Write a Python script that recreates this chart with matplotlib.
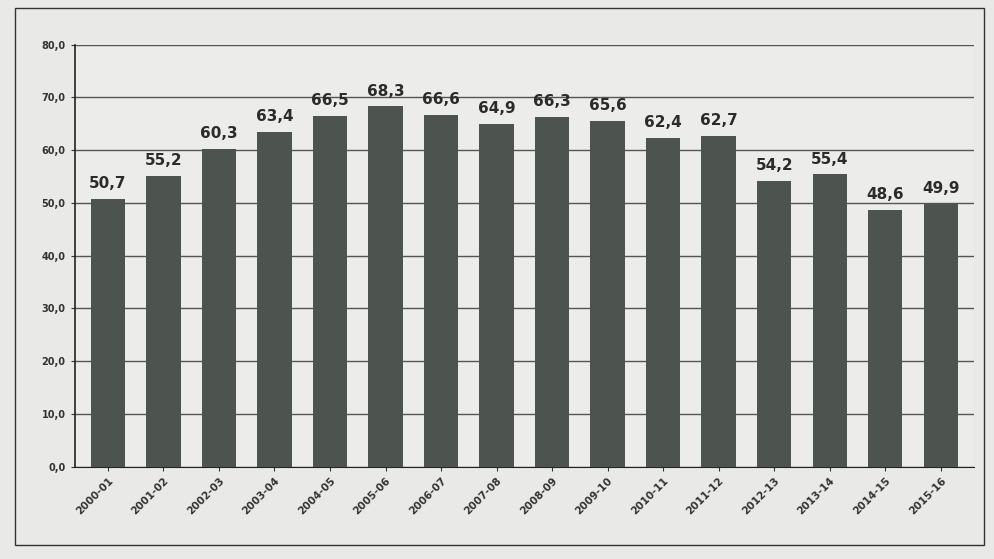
"""Bar chart of yearly values, 2000-01 to 2015-16."""
import matplotlib
matplotlib.use("Agg")
import numpy as np
from matplotlib import pyplot as plt

years = ["2000-01", "2001-02", "2002-03", "2003-04", "2004-05", "2005-06",
         "2006-07", "2007-08", "2008-09", "2009-10", "2010-11", "2011-12",
         "2012-13", "2013-14", "2014-15", "2015-16"]
values = [50.7, 55.2, 60.3, 63.4, 66.5, 68.3, 66.6, 64.9, 66.3, 65.6,
          62.4, 62.7, 54.2, 55.4, 48.6, 49.9]
y_ticks = [0, 10, 20, 30, 40, 50, 60, 70, 80]


def comma(v):
    return f"{v:.1f}".replace(".", ",")


fig = plt.figure(figsize=(9.94, 5.59), dpi=100, facecolor="#e9e9e7")
ax = fig.add_axes([0.075, 0.165, 0.905, 0.755])
ax.set_facecolor("#ececea")

x = np.arange(len(years))
bars = ax.bar(x, values, width=0.62, color="#4d534f", zorder=3)

for rect, v in zip(bars, values):
    ax.text(rect.get_x() + rect.get_width() / 2, v + 1.5, comma(v),
            ha="center", va="bottom", fontsize=11, fontweight="bold",
            color="#2b2b2b")

ax.set_ylim(0, 80)
ax.set_xlim(-0.6, len(years) - 0.4)
ax.set_yticks(y_ticks)
ax.set_yticklabels([comma(t) for t in y_ticks], fontsize=7, fontweight="bold",
                   color="#333333")
ax.set_xticks(x)
ax.set_xticklabels(years, rotation=45, ha="right", rotation_mode="anchor",
                   fontsize=7.5, fontweight="bold", color="#333333")
ax.grid(axis="y", color="#555555", linewidth=1.0, zorder=0)
ax.tick_params(axis="both", length=3, color="#333333")

for side in ["top", "right"]:
    ax.spines[side].set_visible(False)
ax.spines["left"].set_color("#222222")
ax.spines["bottom"].set_color("#222222")
ax.spines["left"].set_linewidth(1.2)

# outer chart frame
frame = plt.Rectangle((0.015, 0.025), 0.975, 0.96, transform=fig.transFigure,
                      fill=False, edgecolor="#333333", linewidth=1.0)
fig.patches.append(frame)

fig.savefig("out.png", dpi=100, facecolor=fig.get_facecolor())
